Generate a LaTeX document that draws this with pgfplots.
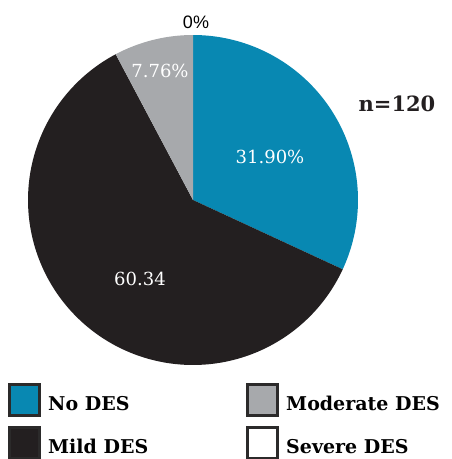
\documentclass[border=0pt]{standalone}
\usepackage{pgfplots}
\pgfplotsset{compat=1.18}
\usepackage{fontspec}
\setmainfont{DejaVu Serif}
\newfontfamily\sansf{Liberation Sans}
\definecolor{cNo}{HTML}{0888B2}
\definecolor{cMild}{HTML}{231F20}
\definecolor{cMod}{HTML}{A7A9AC}
\definecolor{cEdge}{HTML}{2B2A2A}
% shares (percent)
\def\pNo{31.90}
\def\pMild{60.34}
\def\pMod{7.76}
\def\pSev{0}
\begin{document}
\begin{tikzpicture}
\path[use as bounding box] (0,0) rectangle (451pt,459pt);
\begin{axis}[
  at={(0,0)}, anchor=south west,
  scale only axis, width=451pt, height=459pt,
  xmin=0, xmax=451, ymin=0, ymax=459,
  hide axis, clip=false,
  legend columns=2,
  legend cell align=left,
  legend style={at={(axis cs:8,76)}, anchor=north west, draw=none, fill=none,
    font=\fontsize{19}{21}\selectfont\bfseries, row sep=9pt,
    inner sep=0pt,
    nodes={inner sep=2pt},
    /tikz/every odd column/.append style={column sep=5pt},
    /tikz/every even column/.append style={column sep=96pt},
  },
  legend image code/.code={\draw[#1, draw=cEdge, line width=3pt] (1.5pt,-12pt) rectangle (31.5pt,19pt);},
]
% No DES: clockwise from top
\addplot[fill=cNo, draw=none, forget plot, domain={90-\pNo*3.6}:90, samples=90, variable=\t]
  ({193+165*cos(\t)},{259+165*sin(\t)}) -- (axis cs:193,259) -- cycle;
% Mild DES
\addplot[fill=cMild, draw=none, forget plot, domain={90-(\pNo+\pMild)*3.6}:{90-\pNo*3.6}, samples=150, variable=\t]
  ({193+165*cos(\t)},{259+165*sin(\t)}) -- (axis cs:193,259) -- cycle;
% Moderate DES
\addplot[fill=cMod, draw=none, forget plot, domain={90-(\pNo+\pMild+\pMod)*3.6}:{90-(\pNo+\pMild)*3.6}, samples=30, variable=\t]
  ({193+165*cos(\t)},{259+165*sin(\t)}) -- (axis cs:193,259) -- cycle;

\addlegendimage{fill=cNo}\addlegendentry{No DES}
\addlegendimage{fill=cMod}\addlegendentry{Moderate DES}
\addlegendimage{fill=cMild, draw=cMild}\addlegendentry{Mild DES}
\addlegendimage{fill=white}\addlegendentry{Severe DES}

\node[white, font=\fontsize{18}{20}\selectfont] at (axis cs:270,302) {31.90\%};
\node[white, font=\fontsize{18}{20}\selectfont] at (axis cs:140,180) {60.34};
\node[white, font=\fontsize{18}{20}\selectfont] at (axis cs:160,388) {7.76\%};
\node[black, font=\sansf\fontsize{18}{20}\selectfont] at (axis cs:196,437) {0\%};
\node[cMild, font=\fontsize{21}{24}\selectfont\bfseries] at (axis cs:397,355) {n=120};
\end{axis}
\end{tikzpicture}
\end{document}
